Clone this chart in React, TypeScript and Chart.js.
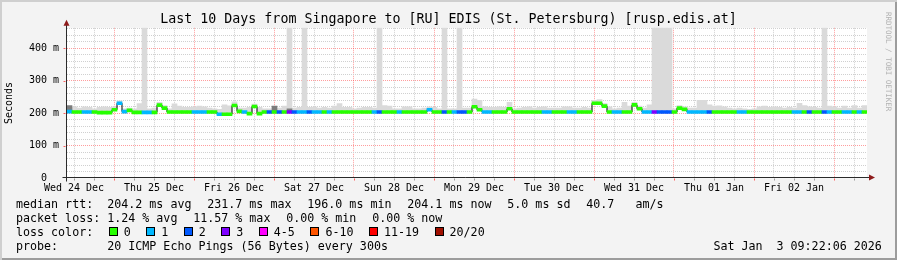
import React, { useEffect, useRef } from 'react';
import { Chart, registerables } from 'chart.js';

Chart.register(...registerables);

const MONO = "'DejaVu Sans Mono', monospace";

const TITLE = 'Last 10 Days from Singapore to [RU] EDIS (St. Petersburg) [rusp.edis.at]';
const Y_TITLE = 'Seconds';
const DAY_LABELS = [
  'Wed 24 Dec', 'Thu 25 Dec', 'Fri 26 Dec', 'Sat 27 Dec', 'Sun 28 Dec',
  'Mon 29 Dec', 'Tue 30 Dec', 'Wed 31 Dec', 'Thu 01 Jan', 'Fri 02 Jan',
];
// hours after Wed 24 Dec 00:00 at which the graph starts, and the width of one sample bin
const START_HOUR = 9.9;
const BIN_HOURS = 1.5;
const SPAN_HOURS = 240;
const Y_MAX = 463;

// median round-trip time (ms) per bin
const MEDIAN_MS = [
  205, 204, 204, 204, 204, 204, 202, 202, 202, 211, 231, 205, 209, 203, 203, 203,
  203, 203, 225, 216, 204, 204, 204, 204, 204, 204, 204, 204, 204, 204, 197, 197,
  197, 224, 206, 204, 199, 221, 199, 204, 204, 204, 204, 204, 204, 204, 204, 204,
  204, 204, 204, 204, 204, 204, 204, 204, 204, 204, 204, 204, 204, 204, 204, 204,
  204, 204, 204, 204, 204, 204, 204, 204, 211, 204, 204, 204, 204, 204, 204, 204,
  204, 220, 211, 204, 204, 204, 204, 204, 214, 204, 204, 204, 204, 204, 204, 204,
  204, 204, 204, 204, 204, 204, 204, 204, 204, 231, 231, 222, 204, 204, 204, 204,
  204, 226, 214, 204, 204, 204, 204, 204, 204, 204, 216, 212, 204, 204, 204, 204,
  204, 204, 204, 204, 204, 204, 204, 204, 204, 204, 204, 204, 204, 204, 204, 204,
  204, 204, 204, 204, 204, 204, 204, 204, 204, 204, 204, 204, 204, 204, 204, 204,
];

// lost pings per bin (index into LOSS_COLORS)
const LOSS_CLASS = [
  1, 0, 0, 1, 1, 0, 0, 0, 0, 0, 1, 1, 0, 0, 0, 1,
  1, 0, 0, 0, 0, 0, 0, 0, 0, 1, 1, 1, 0, 0, 1, 0,
  0, 0, 0, 1, 0, 0, 0, 0, 2, 0, 2, 0, 3, 2, 1, 1,
  2, 1, 1, 0, 1, 0, 0, 0, 0, 0, 0, 0, 0, 1, 2, 0,
  0, 0, 1, 0, 0, 0, 0, 0, 1, 0, 0, 2, 0, 1, 2, 2,
  0, 0, 0, 1, 1, 0, 0, 0, 0, 0, 0, 0, 0, 0, 0, 1,
  1, 0, 0, 0, 1, 1, 0, 0, 0, 0, 0, 0, 0, 1, 1, 0,
  0, 0, 0, 1, 1, 3, 2, 2, 2, 0, 0, 0, 1, 1, 1, 1,
  2, 0, 0, 0, 0, 0, 1, 1, 0, 0, 0, 0, 0, 0, 0, 0,
  0, 1, 1, 0, 2, 0, 0, 2, 1, 0, 0, 1, 1, 0, 1, 0,
];

// top of the ping spread ("smoke") per bin, ms
const SMOKE_TOP_MS = [
  218, 220, 216, 220, 218, 214, 218, 220, 218, 220, 238, 214, 216, 214, 230, 470,
  214, 216, 234, 224, 214, 229, 222, 218, 218, 220, 222, 220, 216, 214, 212, 226,
  223, 235, 216, 216, 218, 228, 218, 214, 214, 216, 216, 222, 470, 216, 218, 470,
  218, 219, 216, 218, 216, 222, 230, 218, 218, 214, 216, 218, 218, 216, 470, 224,
  222, 214, 214, 220, 220, 214, 214, 216, 220, 218, 214, 470, 214, 214, 470, 216,
  216, 244, 240, 220, 218, 218, 220, 218, 234, 214, 216, 218, 220, 216, 218, 220,
  216, 216, 216, 220, 220, 216, 216, 218, 216, 240, 242, 230, 220, 214, 216, 234,
  222, 234, 222, 216, 226, 470, 470, 470, 470, 214, 224, 220, 216, 216, 240, 240,
  226, 222, 223, 220, 216, 214, 216, 214, 212, 214, 220, 222, 218, 220, 218, 216,
  218, 216, 231, 224, 220, 218, 216, 470, 222, 220, 216, 222, 216, 224, 216, 224,
];

// denser part of the smoke (0 = none), ms
const SMOKE_DARK_MS = [
  224, 0, 0, 0, 0, 0, 0, 0, 0, 0, 0, 0, 0, 0, 0, 0,
  0, 0, 0, 0, 0, 0, 0, 0, 0, 0, 0, 0, 0, 0, 0, 0,
  0, 0, 0, 0, 0, 0, 0, 0, 0, 222, 0, 0, 214, 0, 0, 0,
  0, 0, 0, 0, 0, 0, 0, 0, 0, 0, 0, 0, 0, 0, 0, 0,
  0, 0, 0, 0, 0, 0, 0, 0, 0, 0, 0, 0, 0, 0, 0, 0,
  0, 0, 0, 0, 0, 0, 0, 0, 0, 0, 0, 0, 0, 0, 0, 0,
  0, 0, 0, 0, 0, 0, 0, 0, 0, 0, 0, 0, 0, 0, 0, 0,
  0, 0, 0, 0, 0, 0, 0, 0, 0, 0, 0, 0, 0, 0, 0, 0,
  0, 0, 0, 0, 0, 0, 0, 0, 0, 0, 0, 0, 0, 0, 0, 0,
  0, 0, 0, 0, 0, 0, 0, 0, 0, 0, 0, 0, 0, 0, 0, 0,
];

const LOSS_COLORS = ['#26ff00', '#00b8ff', '#0059ff', '#7e00ff', '#ff00ff', '#ff5500', '#ff0000', '#a01000'];
const LOSS_LABELS = ['0', '1', '2', '3', '4-5', '6-10', '11-19', '20/20'];
const RTT_STATS = ['median rtt:  204.2 ms avg', '231.7 ms max', '196.0 ms min', '204.1 ms now', '5.0 ms sd', '40.7   am/s'];
const LOSS_STATS = ['packet loss: 1.24 % avg', '11.57 % max', '0.00 % min', '0.00 % now'];
const LOSS_COLOR_TITLE = 'loss color:';
const PROBE_TEXT = 'probe:       20 ICMP Echo Pings (56 Bytes) every 300s';
const DATE_TEXT = 'Sat Jan  3 09:22:06 2026';
const WATERMARK = 'RRDTOOL / TOBI OETIKER';

const MINOR_GRID = '#d0d0d0';
const MAJOR_GRID = 'rgba(255,60,60,0.5)';
const ARROW = '#8e1b1b';
const AXIS = '#2a2a2a';

const binTime = (i: number) => START_HOUR + BIN_HOURS * (i + 0.5);

const X_TICKS: number[] = [];
for (let h = 12; h < START_HOUR + SPAN_HOURS; h += 6) X_TICKS.push(h);
const Y_TICKS: number[] = [];
for (let v = 0; v <= Y_MAX; v += 20) Y_TICKS.push(v);

const rrdPlugin = {
  id: 'rrdFrame',
  beforeDraw(chart: any) {
    const { ctx, chartArea: a } = chart;
    ctx.save();
    ctx.fillStyle = '#ffffff';
    ctx.fillRect(a.left, a.top, a.right - a.left, a.bottom - a.top);
    ctx.restore();
  },
  afterDraw(chart: any) {
    const { ctx, chartArea: a, scales } = chart;
    const xs = scales.x;
    const ys = scales.y;
    const ax = Math.round(a.left) - 0.5;
    const ay = Math.round(a.bottom) - 0.5;
    ctx.save();
    ctx.lineWidth = 1;
    X_TICKS.forEach((v) => {
      const px = Math.round(xs.getPixelForValue(v)) + 0.5;
      ctx.strokeStyle = v % 24 === 0 ? 'rgba(255,60,60,0.8)' : '#9a9a9a';
      ctx.beginPath();
      ctx.moveTo(px, ay + 1);
      ctx.lineTo(px, ay + 3);
      ctx.stroke();
    });
    Y_TICKS.forEach((v) => {
      if (v === 0 || v % 100 !== 0) return;
      const py = Math.round(ys.getPixelForValue(v)) + 0.5;
      ctx.strokeStyle = 'rgba(255,60,60,0.8)';
      ctx.beginPath();
      ctx.moveTo(ax - 3, py);
      ctx.lineTo(ax - 1, py);
      ctx.stroke();
    });
    ctx.strokeStyle = AXIS;
    ctx.beginPath();
    ctx.moveTo(ax - 4, ay);
    ctx.lineTo(a.right + 2, ay);
    ctx.moveTo(ax, ay + 4);
    ctx.lineTo(ax, a.top - 3);
    ctx.stroke();
    ctx.fillStyle = ARROW;
    ctx.beginPath();
    ctx.moveTo(a.right + 2, ay - 3);
    ctx.lineTo(a.right + 8, ay);
    ctx.lineTo(a.right + 2, ay + 3);
    ctx.closePath();
    ctx.fill();
    ctx.beginPath();
    ctx.moveTo(ax - 3, a.top - 2);
    ctx.lineTo(ax, a.top - 8);
    ctx.lineTo(ax + 3, a.top - 2);
    ctx.closePath();
    ctx.fill();
    ctx.restore();
  },
};

function StatRow({ top, items, gap }: { top: number; items: string[]; gap: number }) {
  return (
    <div
      style={{
        position: 'absolute', left: 16, top, display: 'flex', gap,
        whiteSpace: 'pre', fontSize: 11.66, lineHeight: '14px',
      }}
    >
      {items.map((t, i) => (
        <span key={i}>{t}</span>
      ))}
    </div>
  );
}

export default function App() {
  const ref = useRef<HTMLCanvasElement | null>(null);

  useEffect(() => {
    if (!ref.current) return;
    const smoke = MEDIAN_MS.map((m, i) => ({ x: binTime(i), y: [m, SMOKE_TOP_MS[i]] }));
    const dark = MEDIAN_MS.map((m, i) => (SMOKE_DARK_MS[i] ? { x: binTime(i), y: [m, SMOKE_DARK_MS[i]] } : null)).filter(Boolean);
    const band = MEDIAN_MS.map((m, i) => ({ x: binTime(i), y: [m - 4.6, m + 4.6] }));
    const line = MEDIAN_MS.map((m, i) => ({ x: binTime(i), y: m }));

    const chart = new Chart(ref.current, {
      type: 'bar',
      data: {
        datasets: [
          {
            type: 'bar', data: smoke as any, backgroundColor: '#dadada', borderWidth: 0,
            grouped: false, barPercentage: 1, categoryPercentage: 1, order: 4,
          } as any,
          {
            type: 'bar', data: dark as any, backgroundColor: '#7c7c7c', borderWidth: 0,
            grouped: false, barPercentage: 1, categoryPercentage: 1, order: 3,
          } as any,
          {
            type: 'line', data: line as any, borderColor: '#000000', borderWidth: 1,
            pointRadius: 0, stepped: 'middle', order: 2,
          } as any,
          {
            type: 'bar', data: band as any, backgroundColor: LOSS_CLASS.map((c) => LOSS_COLORS[c]),
            borderWidth: 0, grouped: false, barPercentage: 1, categoryPercentage: 1, order: 1,
          } as any,
        ],
      },
      options: {
        animation: false,
        responsive: false,
        maintainAspectRatio: false,
        events: [],
        layout: { padding: { left: 0, top: 27.8, right: 30, bottom: 61.7 } },
        plugins: { legend: { display: false }, tooltip: { enabled: false }, title: { display: false } },
        scales: {
          x: {
            type: 'linear',
            min: START_HOUR,
            max: START_HOUR + SPAN_HOURS,
            offset: false,
            afterBuildTicks: (s: any) => { s.ticks = X_TICKS.map((v) => ({ value: v })); },
            afterFit: (s: any) => { s.height = 20; },
            grid: {
              offset: false,
              drawTicks: false,
              lineWidth: 1,
              color: (c: any) => (c.tick && c.tick.value % 24 === 0 ? MAJOR_GRID : MINOR_GRID),
            },
            border: { display: false, dash: [1, 1] },
            ticks: {
              autoSkip: false, maxRotation: 0, minRotation: 0, padding: 4,
              color: '#000', font: { family: MONO, size: 10 },
              callback: (v: any) => (v % 24 === 12 ? DAY_LABELS[(v - 12) / 24] : ''),
            },
          } as any,
          y: {
            type: 'linear',
            min: 0,
            max: Y_MAX,
            afterBuildTicks: (s: any) => { s.ticks = Y_TICKS.map((v) => ({ value: v })); },
            afterFit: (s: any) => { s.width = 67; },
            grid: {
              drawTicks: false,
              lineWidth: 1,
              color: (c: any) => {
                const v = c.tick ? c.tick.value : 1;
                if (v === 0) return 'rgba(0,0,0,0)';
                return v % 100 === 0 ? MAJOR_GRID : MINOR_GRID;
              },
            },
            border: { display: false, dash: [1, 1] },
            title: {
              display: true, text: Y_TITLE, color: '#000',
              font: { family: MONO, size: 10 }, padding: { top: 3, bottom: 0 },
            },
            ticks: {
              autoSkip: false, padding: 8, color: '#000', font: { family: MONO, size: 10 },
              callback: (v: any) => (v % 100 === 0 ? (v === 0 ? '0  ' : `${v} m`) : ''),
            },
          } as any,
        },
      },
      plugins: [rrdPlugin],
    } as any);
    return () => chart.destroy();
  }, []);

  return (
    <div
      style={{
        position: 'fixed', left: 0, top: 0, width: 897, height: 260, overflow: 'hidden',
        background: '#f3f3f3', fontFamily: MONO, color: '#000',
        boxShadow: 'inset 2px 2px 0 #cfcfcf, inset -2px -2px 0 #9c9c9c',
      }}
    >
      <canvas ref={ref} width={897} height={260} style={{ position: 'absolute', left: 0, top: 0, width: 897, height: 260 }} />
      <div style={{ position: 'absolute', left: 0, top: 10.7, width: 897, textAlign: 'center', fontSize: 13.3, lineHeight: '16px', whiteSpace: 'pre' }}>
        {TITLE}
      </div>
      <div style={{ position: 'absolute', left: 884, top: 12, writingMode: 'vertical-rl', fontSize: 7.5, lineHeight: '9px', color: '#b2b2b2', whiteSpace: 'pre' }}>
        {WATERMARK}
      </div>
      <StatRow top={196.6} items={RTT_STATS} gap={15.8} />
      <StatRow top={210.6} items={LOSS_STATS} gap={15.8} />
      <div style={{ position: 'absolute', left: 16, top: 224.6, display: 'flex', gap: 15.5, whiteSpace: 'pre', fontSize: 11.66, lineHeight: '14px', alignItems: 'center' }}>
        <span>{LOSS_COLOR_TITLE}</span>
        {LOSS_LABELS.map((lab, i) => (
          <span key={lab} style={{ display: 'flex', alignItems: 'center' }}>
            <span style={{ display: 'inline-block', width: 7, height: 7, border: '1px solid #000', background: LOSS_COLORS[i], marginRight: 6 }} />
            <span>{lab}</span>
          </span>
        ))}
      </div>
      <div style={{ position: 'absolute', left: 16, top: 238.6, whiteSpace: 'pre', fontSize: 11.66, lineHeight: '14px' }}>{PROBE_TEXT}</div>
      <div style={{ position: 'absolute', right: 15.2, top: 238.6, whiteSpace: 'pre', fontSize: 11.66, lineHeight: '14px' }}>{DATE_TEXT}</div>
    </div>
  );
}
